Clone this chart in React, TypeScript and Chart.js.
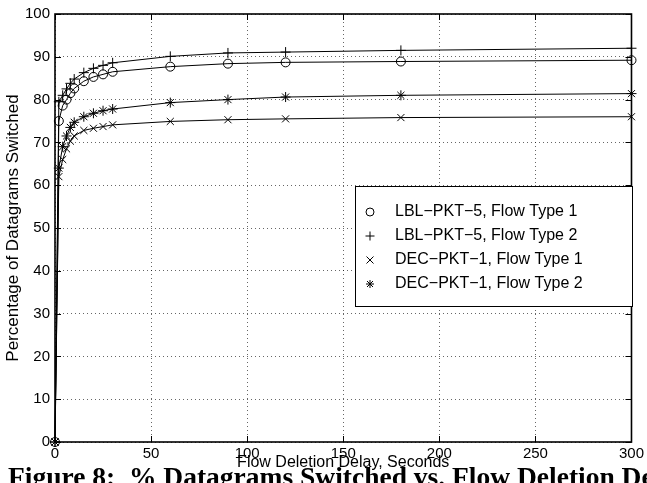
import React, { useEffect, useRef } from 'react';
import { Chart, registerables } from 'chart.js';

Chart.register(...registerables);

// Flow deletion delay (seconds)
const delays = [0, 2, 4, 6, 8, 10, 15, 20, 25, 30, 60, 90, 120, 180, 300];
// Percentage of datagrams switched
const lblType1 = [0, 75, 78.6, 80, 81.5, 82.6, 84.3, 85.3, 85.9, 86.5, 87.7, 88.4, 88.7, 88.9, 89.2];
const lblType2 = [0, 79.5, 81, 82.5, 83.8, 84.8, 86.3, 87.3, 88.0, 88.6, 90.1, 90.9, 91.1, 91.5, 92.0];
const decType1 = [0, 62, 66, 68.5, 70.3, 71.5, 72.8, 73.3, 73.7, 74.1, 74.9, 75.3, 75.5, 75.8, 76.0];
const decType2 = [0, 64, 69, 71.5, 73.5, 74.7, 76.0, 76.8, 77.4, 77.8, 79.3, 80.0, 80.6, 81.0, 81.4];

const seriesLabels = [
  'LBL\u2212PKT\u22125, Flow Type 1',
  'LBL\u2212PKT\u22125, Flow Type 2',
  'DEC\u2212PKT\u22121, Flow Type 1',
  'DEC\u2212PKT\u22121, Flow Type 2',
];
const seriesValues = [lblType1, lblType2, decType1, decType2];
const markerStyles = ['circle', 'cross', 'crossRot', 'star'];

const xTickValues = [0, 50, 100, 150, 200, 250, 300];
const yTickValues = [0, 10, 20, 30, 40, 50, 60, 70, 80, 90, 100];

const xTitle = 'Flow Deletion Delay, Seconds';
const yTitle = 'Percentage of Datagrams Switched';
const caption = 'Figure 8:  % Datagrams Switched vs. Flow Deletion Delay';

const FONT = '"Liberation Sans", Arial, Helvetica, sans-serif';

function drawMarker(ctx: CanvasRenderingContext2D, style: string, x: number, y: number) {
  ctx.beginPath();
  if (style === 'circle') {
    ctx.arc(x, y, 4, 0, Math.PI * 2);
  } else if (style === 'cross') {
    ctx.moveTo(x - 4.5, y); ctx.lineTo(x + 4.5, y);
    ctx.moveTo(x, y - 4.5); ctx.lineTo(x, y + 4.5);
  } else if (style === 'crossRot') {
    ctx.moveTo(x - 3.5, y - 3.5); ctx.lineTo(x + 3.5, y + 3.5);
    ctx.moveTo(x - 3.5, y + 3.5); ctx.lineTo(x + 3.5, y - 3.5);
  } else {
    ctx.moveTo(x - 4, y); ctx.lineTo(x + 4, y);
    ctx.moveTo(x, y - 4); ctx.lineTo(x, y + 4);
    ctx.moveTo(x - 3, y - 3); ctx.lineTo(x + 3, y + 3);
    ctx.moveTo(x - 3, y + 3); ctx.lineTo(x + 3, y - 3);
  }
  ctx.stroke();
}

const framePlugin = {
  id: 'frameAndLegend',
  afterDraw(chart: any) {
    const { ctx, chartArea, scales } = chart;
    const { left, right, top, bottom } = chartArea;
    ctx.save();
    ctx.strokeStyle = '#000';
    // inner tick marks
    ctx.lineWidth = 1;
    ctx.beginPath();
    xTickValues.forEach((v) => {
      const px = Math.round(scales.x.getPixelForValue(v)) + 0.5;
      ctx.moveTo(px, bottom); ctx.lineTo(px, bottom - 6);
      ctx.moveTo(px, top); ctx.lineTo(px, top + 6);
    });
    yTickValues.forEach((v) => {
      const py = Math.round(scales.y.getPixelForValue(v)) + 0.5;
      ctx.moveTo(left, py); ctx.lineTo(left + 6, py);
      ctx.moveTo(right, py); ctx.lineTo(right - 6, py);
    });
    ctx.stroke();
    // box
    ctx.lineWidth = 1.6;
    ctx.strokeRect(left, top, right - left, bottom - top);

    // legend
    const lx = 355.5, ly = 186.5, lw = 277, lh = 120;
    ctx.fillStyle = '#fff';
    ctx.fillRect(lx, ly, lw, lh);
    ctx.lineWidth = 1;
    ctx.strokeRect(lx, ly, lw, lh);
    ctx.font = '16px ' + FONT;
    ctx.textBaseline = 'middle';
    ctx.textAlign = 'left';
    ctx.fillStyle = '#000';
    const rows = [212, 236, 260, 284];
    seriesLabels.forEach((label, i) => {
      drawMarker(ctx, markerStyles[i], 370, rows[i]);
      ctx.fillText(label, 395, rows[i]);
    });
    ctx.restore();
  },
};

export default function App() {
  const canvasRef = useRef<HTMLCanvasElement | null>(null);

  useEffect(() => {
    const canvas = canvasRef.current;
    if (!canvas) return;
    const chart = new Chart(canvas, {
      type: 'line',
      data: {
        datasets: seriesValues.map((vals, i) => ({
          label: seriesLabels[i],
          data: delays.map((d, j) => ({ x: d, y: vals[j] })),
          borderColor: '#000',
          backgroundColor: 'transparent',
          borderWidth: 1,
          pointStyle: markerStyles[i] as any,
          pointRadius: i === 0 ? 4.5 : 5,
          pointBorderColor: '#000',
          pointBackgroundColor: 'transparent',
          pointBorderWidth: 1,
          tension: 0,
          fill: false,
          clip: false as any,
        })),
      },
      options: {
        animation: false,
        responsive: false,
        devicePixelRatio: 1,
        layout: { padding: { left: 0, right: 12, top: 13, bottom: 0 } },
        plugins: {
          legend: { display: false },
          tooltip: { enabled: false },
        },
        scales: {
          x: {
            type: 'linear',
            min: 0,
            max: 300,
            afterFit: (s: any) => { s.height = 41; },
            afterBuildTicks: (s: any) => { s.ticks = xTickValues.map((v) => ({ value: v })); },
            ticks: { color: '#000', padding: 3, font: { size: 15, family: FONT } },
            grid: { color: 'rgba(0,0,0,0.6)', lineWidth: 1, drawTicks: false },
            border: { display: false, dash: [1, 3] },
            title: {
              display: true,
              text: xTitle,
              color: '#000',
              font: { size: 16, family: FONT },
              padding: { top: 0, bottom: 11 },
            },
          },
          y: {
            type: 'linear',
            min: 0,
            max: 100,
            afterFit: (s: any) => { s.width = 55; },
            afterBuildTicks: (s: any) => { s.ticks = yTickValues.map((v) => ({ value: v })); },
            ticks: { color: '#000', padding: 5, font: { size: 15, family: FONT } },
            grid: { color: 'rgba(0,0,0,0.6)', lineWidth: 1, drawTicks: false },
            border: { display: false, dash: [1, 3] },
            title: {
              display: true,
              text: yTitle,
              color: '#000',
              font: { size: 17, family: FONT },
              padding: { top: 3, bottom: 0 },
            },
          },
        },
      },
      plugins: [framePlugin],
    });
    return () => chart.destroy();
  }, []);

  return (
    <div style={{ position: 'fixed', left: 0, top: 0, width: 647, height: 483, background: '#fff', overflow: 'hidden' }}>
      <canvas ref={canvasRef} width={647} height={483} style={{ display: 'block', width: 647, height: 483 }} />
      <div
        style={{
          position: 'absolute',
          left: 8,
          top: 463,
          fontFamily: '"Liberation Serif", "Times New Roman", serif',
          fontWeight: 'bold',
          fontSize: 27.5,
          lineHeight: '27.5px',
          whiteSpace: 'pre',
          color: '#000',
        }}
      >
        {caption}
      </div>
    </div>
  );
}
